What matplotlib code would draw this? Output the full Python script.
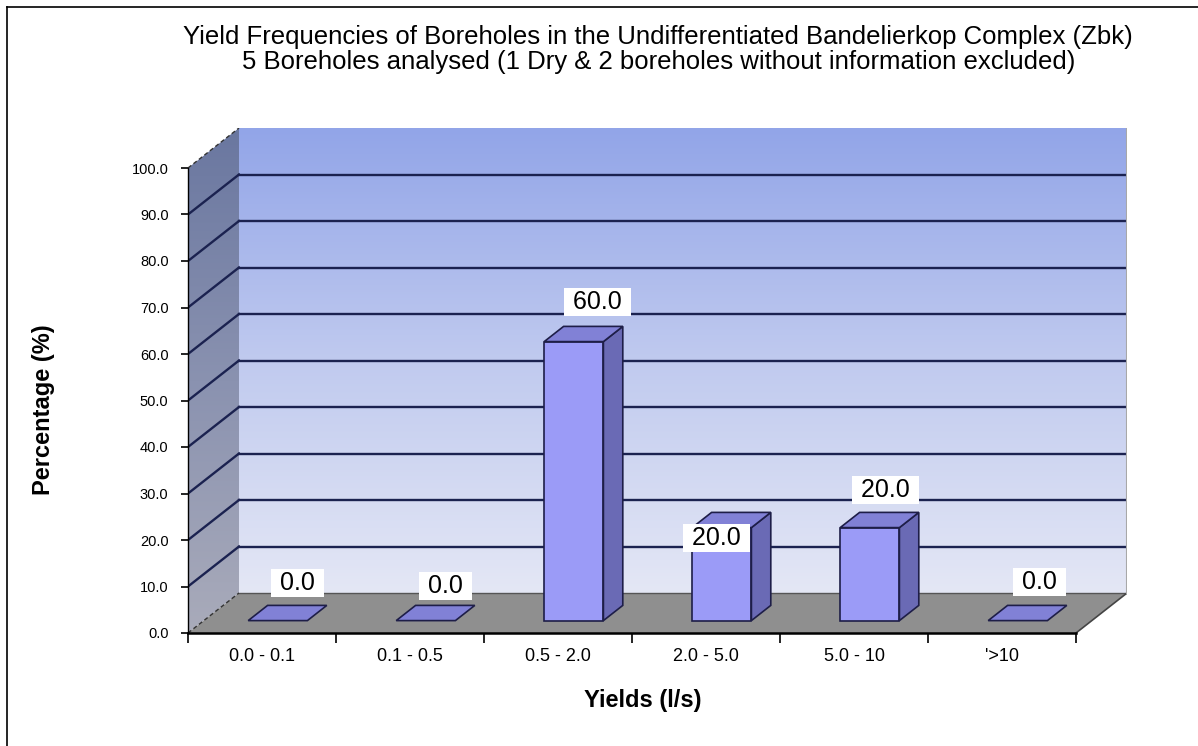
import numpy as np
import matplotlib
matplotlib.use('Agg')
import matplotlib.pyplot as plt
from matplotlib import font_manager
from matplotlib.patches import Polygon
from matplotlib.colors import LinearSegmentedColormap
from matplotlib.lines import Line2D

# ---------------- data ----------------
categories = ['0.0 - 0.1', '0.1 - 0.5', '0.5 - 2.0', '2.0 - 5.0', '5.0 - 10', "'>10"]
percentages = [0.0, 0.0, 60.0, 20.0, 20.0, 0.0]
y_ticks = [0, 10, 20, 30, 40, 50, 60, 70, 80, 90, 100]
title_lines = ["Yield Frequencies of Boreholes in the Undifferentiated Bandelierkop Complex (Zbk)",
               "5 Boreholes analysed (1 Dry & 2 boreholes without information excluded)"]
x_label = "Yields (l/s)"
y_label = "Percentage (%)"

# ---------------- style ----------------
plt.rcParams['font.family'] = ['Liberation Sans', 'DejaVu Sans']
narrow = 'Liberation Sans'
try:
    p = font_manager.findfont(font_manager.FontProperties(family='Liberation Sans Narrow'),
                              fallback_to_default=False)
    if 'Narrow' in p:
        narrow = 'Liberation Sans Narrow'
except Exception:
    pass

W, H = 1198, 746
fig = plt.figure(figsize=(W / 100, H / 100), dpi=100)

n = len(categories)
ymax = 100
DX = 51 / 148.0      # depth offset in category units
DY = 40 / 4.65       # depth offset in value units

ax = fig.add_axes([188 / W, (H - 633) / H, 939 / W, 505 / H])
ax.patch.set_visible(False)

grad = np.linspace(0, 1, 256).reshape(-1, 1)
wall_cmap = LinearSegmentedColormap.from_list('wall', ['#e4e7f5', '#c0caef', '#92a5e8'])
ax.imshow(grad, extent=(DX, n + DX, DY, ymax + DY), origin='lower', cmap=wall_cmap,
          aspect='auto', zorder=0, interpolation='bilinear')

side_poly = Polygon([(0, 0), (DX, DY), (DX, ymax + DY), (0, ymax)], closed=True,
                    facecolor='none', edgecolor='none', zorder=0)
ax.add_patch(side_poly)
side_cmap = LinearSegmentedColormap.from_list('side', ['#a9abba', '#8a92b0', '#6a77a0'])
im2 = ax.imshow(grad, extent=(0, DX, 0, ymax + DY), origin='lower', cmap=side_cmap,
                aspect='auto', zorder=0, interpolation='bilinear')
im2.set_clip_path(side_poly)

# floor
ax.add_patch(Polygon([(0, 0), (n, 0), (n + DX, DY), (DX, DY)], closed=True,
                     facecolor='#8f8f8f', edgecolor='none', zorder=1))

grid_color = '#1b2250'
for v in y_ticks:
    if 0 < v < ymax:
        ax.plot([DX, n + DX], [v + DY, v + DY], color=grid_color, lw=1.7, zorder=1.5)
        ax.plot([0, DX], [v, v + DY], color=grid_color, lw=1.7, zorder=1.5)
ax.plot([DX, n + DX], [DY, DY], color='#555555', lw=1.0, zorder=1.5)
ax.plot([0, DX], [0, DY], color='#333333', lw=1.0, ls=(0, (3, 2)), zorder=1.5)
ax.plot([0, DX], [ymax, ymax + DY], color='#333333', lw=1.0, ls=(0, (3, 2)), zorder=1.5)
ax.plot([n, n + DX], [0, DY], color='#444444', lw=1.2, zorder=1.5)
ax.plot([n + DX, n + DX], [DY, ymax + DY], color='#a8a8a8', lw=1.5, zorder=1.5)

# bars
front_c, side_c, top_c, edge_c = '#9b9bf7', '#6a6ab5', '#8181d6', '#1e1e48'
bw = 0.4
f0, f1 = 0.31, 0.69
ddx, ddy = (f1 - f0) * DX, (f1 - f0) * DY
for i, v in enumerate(percentages):
    x0 = i + 0.5 - bw / 2 + f0 * DX
    x1 = x0 + bw
    y0 = f0 * DY
    y1 = y0 + v
    if v > 0:
        ax.add_patch(Polygon([(x0, y0), (x1, y0), (x1, y1), (x0, y1)], closed=True,
                             facecolor=front_c, edgecolor=edge_c, lw=1.2, zorder=3))
        ax.add_patch(Polygon([(x1, y0), (x1 + ddx, y0 + ddy), (x1 + ddx, y1 + ddy), (x1, y1)],
                             closed=True, facecolor=side_c, edgecolor=edge_c, lw=1.2, zorder=3))
    ax.add_patch(Polygon([(x0, y1), (x1, y1), (x1 + ddx, y1 + ddy), (x0 + ddx, y1 + ddy)],
                         closed=True, facecolor=top_c, edgecolor=edge_c, lw=1.2, zorder=3))

# data labels (offsets in pixels: right, down)
label_offsets = [(20, -38), (20, -35), (24, -40), (-5, 10), (16, -38), (22, -39)]
for i, v in enumerate(percentages):
    ox, oy = label_offsets[i]
    ax.annotate(f' {v:.1f} ', xy=(i + 0.5 + f0 * DX, f0 * DY + v),
                xytext=(ox * 0.72, -oy * 0.72), textcoords='offset points',
                ha='center', va='center', fontsize=18, color='black',
                bbox=dict(boxstyle='square,pad=0.08', facecolor='white', edgecolor='none'),
                zorder=6)

ax.set_xlim(0, n + DX)
ax.set_ylim(0, ymax + DY)

ax.spines[['top', 'right']].set_visible(False)
ax.spines['left'].set_bounds(0, ymax)
ax.spines['bottom'].set_bounds(0, n)
ax.spines['bottom'].set_linewidth(1.8)
ax.spines['left'].set_linewidth(1.0)
ax.set_yticks(y_ticks)
ax.set_yticklabels([f'{v:.1f}' for v in y_ticks], fontsize=10.5)
ax.tick_params(axis='y', direction='out', length=5, width=1.2, pad=9)
ax.set_xticks(np.arange(n + 1))
ax.set_xticklabels([])
ax.tick_params(axis='x', which='major', direction='out', length=7, width=1.2)
ax.set_xticks(np.arange(n) + 0.5, minor=True)
ax.set_xticklabels(categories, minor=True, fontsize=13)
ax.tick_params(axis='x', which='minor', length=0, pad=11)

# titles & axis labels
t1 = fig.text(658 / W, 1 - 37 / H, title_lines[0], ha='center', va='center', fontsize=15,
              family=[narrow, 'DejaVu Sans'])
renderer = fig.canvas.get_renderer()
bb = t1.get_window_extent(renderer)
fs = 15 * 951 / bb.width
t1.set_fontsize(fs)
fig.text(659 / W, 1 - 62 / H, title_lines[1], ha='center', va='center', fontsize=fs,
         family=[narrow, 'DejaVu Sans'])

fig.text(643 / W, 1 - 701 / H, x_label, ha='center', va='center', fontsize=17, fontweight='bold')
fig.text(44 / W, 1 - 410 / H, y_label, ha='center', va='center', fontsize=17,
         fontweight='bold', rotation=90)

# outer border (top and left visible)
fig.add_artist(Line2D([7 / W, 1], [1 - 7 / H, 1 - 7 / H], color='black', lw=1.2))
fig.add_artist(Line2D([7 / W, 7 / W], [0, 1 - 7 / H], color='black', lw=1.2))

fig.savefig('out.png', dpi=100)
